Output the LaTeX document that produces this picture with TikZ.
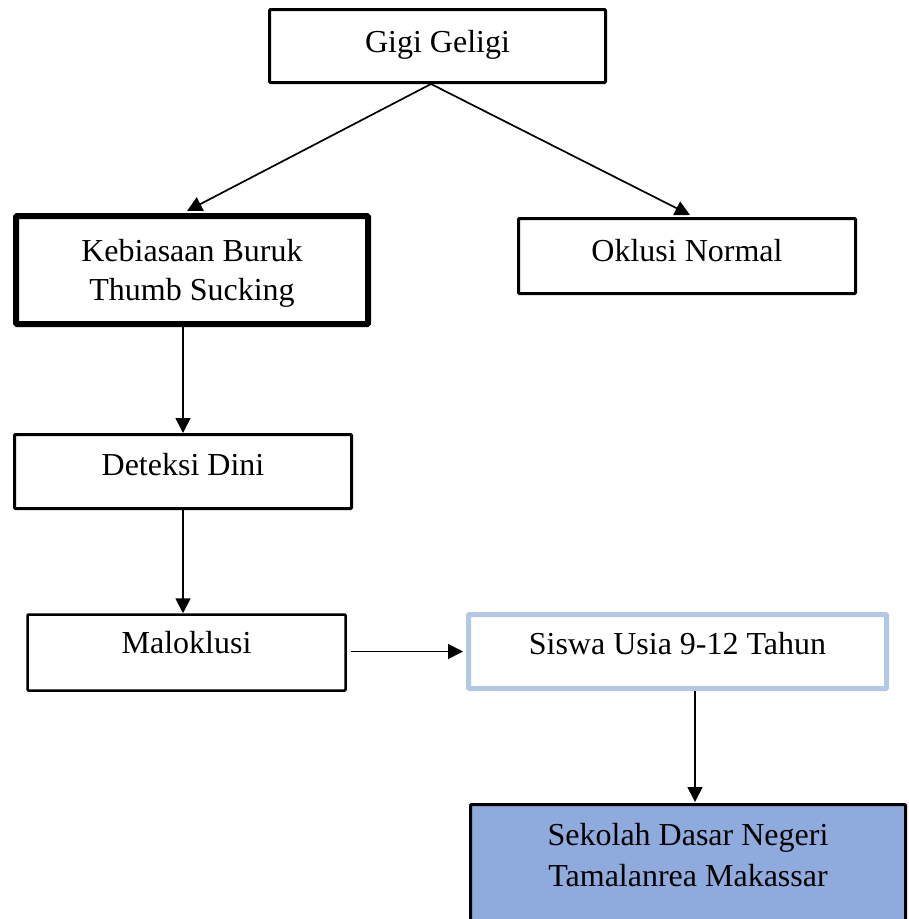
\documentclass[tikz,border=0pt]{standalone}
\usepackage{fontspec}
\setmainfont{Liberation Serif}
\usetikzlibrary{arrows.meta,calc}
\definecolor{lightblueline}{HTML}{B4C7E7}
\definecolor{fillblue}{HTML}{8FAADC}
\begin{document}
\begin{tikzpicture}[x=1pt,y=-1pt,
  box/.style={draw=black,line width=3pt,rectangle,inner sep=0pt,rounded corners=1pt},
  txt/.style={anchor=base,inner sep=0pt,font=\fontsize{32}{39}\selectfont},
  arr/.style={draw=black,line width=1.7pt,-{Triangle[length=15pt,width=15pt]}}]
\useasboundingbox (0,0) rectangle (909,919);
\begin{scope}
\clip (0,0) rectangle (909,919);
% boxes
\node[box,minimum width=336pt,minimum height=73pt] (gigi) at (437.5,46) {};
\node[box,line width=6pt,minimum width=352pt,minimum height=108pt] (keb) at (192,270) {};
\node[box,minimum width=337pt,minimum height=75pt] (okl) at (687,256) {};
\node[box,minimum width=337pt,minimum height=74pt] (det) at (183,471.5) {};
\node[box,line width=2.5pt,minimum width=318pt,minimum height=76pt] (mal) at (186.5,652.5) {};
\node[box,draw=lightblueline,line width=5pt,minimum width=418pt,minimum height=74pt] (sis) at (677.5,651.5) {};
\node[box,fill=fillblue,minimum width=435pt,minimum height=135pt] (sek) at (688,872) {};
\end{scope}
% texts
\node[txt] (tgigi) at (437.5,52) {Gigi Geligi};
\node[txt] (tkeb1) at (192,261) {Kebiasaan Buruk};
\node[txt] (tkeb2) at (192,300) {Thumb Sucking};
\node[txt] (tokl) at (687,261) {Oklusi Normal};
\node[txt] (tdet) at (183,475) {Deteksi Dini};
\node[txt] (tmal) at (186.5,653) {Maloklusi};
\node[txt] (tsis) at (677.5,654) {Siswa Usia 9-12 Tahun};
\node[txt] (tsek1) at (688,845) {Sekolah Dasar Negeri};
\node[txt] (tsek2) at (688,886) {Tamalanrea Makassar};
% connectors
\coordinate (gs) at ($(gigi.south)+(-6.5,0)$);
\draw[arr] (gs) -- ($(keb.north)+(-5,-2)$);
\draw[arr] (gs) -- ($(okl.north)+(3,-2)$);
\draw[arr] (keb.south -| det.north) -- (det.north);
\draw[arr] (det.south) -- (det.south |- mal.north);
\draw[arr] ($(mal.east)+(4,-1)$) -- ($(sis.west)+(-3,0)$);
\draw[arr] ($(sis.south)+(17.5,0)$) -- ($(sek.north)+(7,-1)$);
\end{tikzpicture}
\end{document}
